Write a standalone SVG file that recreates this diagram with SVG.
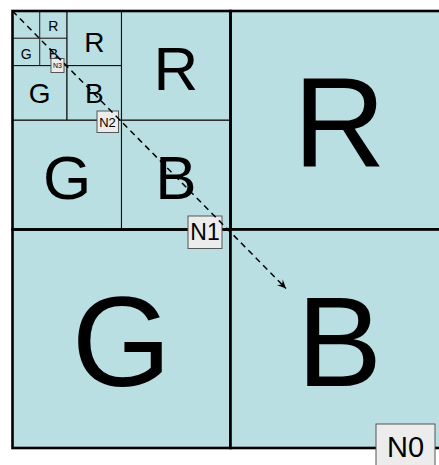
<svg xmlns="http://www.w3.org/2000/svg" width="439" height="465" viewBox="0 0 439 465">
<defs>
<style>
.c{fill:#b9dfe2}
.t0{stroke:#000;stroke-width:2.6}
.t1{stroke:#111;stroke-width:1.1}
.t3{stroke:#333;stroke-width:1}
.fr{fill:none;stroke:#000;stroke-width:2.6}
.L{font-family:"Liberation Sans",Arial,sans-serif;fill:#000;text-anchor:middle}
.lb{fill:#ececec;stroke:#555;stroke-width:1}
.con{fill:none;stroke:#000;stroke-width:1.5;stroke-dasharray:6 4.5}
</style>
<marker id="ah" markerUnits="userSpaceOnUse" markerWidth="12" markerHeight="12" viewBox="-10 -6 12 12" refX="0" refY="0" orient="auto">
<path d="M0,0 L-9,-4.2 Q-6,-1 -6,0 Q-6,1 -9,4.2 Z" fill="#000"/>
</marker>
</defs>
<!-- level 3 -->
<g id="cell-3-0"><rect class="c t3" x="12.5" y="11" width="27.25" height="27.3"/></g>
<g id="cell-3-R"><rect class="c t3" x="39.75" y="11" width="27.25" height="27.3"/><text class="L" x="53.4" y="31.2" font-size="14">R</text></g>
<g id="cell-3-G"><rect class="c t3" x="12.5" y="38.3" width="27.25" height="27.3"/><text class="L" x="26.1" y="58.5" font-size="14">G</text></g>
<g id="cell-3-B"><rect class="c t3" x="39.75" y="38.3" width="27.25" height="27.3"/><text class="L" x="53.4" y="58.5" font-size="14">B</text></g>
<!-- level 2 -->
<g id="cell-2-R"><rect class="c t1" x="67" y="11" width="54.5" height="54.6"/><text class="L" x="94.25" y="51.5" font-size="28">R</text></g>
<g id="cell-2-G"><rect class="c t1" x="12.5" y="65.6" width="54.5" height="54.65"/><text class="L" x="39.75" y="103.2" font-size="28">G</text></g>
<g id="cell-2-B"><rect class="c t1" x="67" y="65.6" width="54.5" height="54.65"/><text class="L" x="94.25" y="103.2" font-size="28">B</text></g>
<!-- level 1 -->
<g id="cell-1-R"><rect class="c t1" x="121.5" y="11" width="109" height="109.25"/><text class="L" x="176" y="90" font-size="62">R</text></g>
<g id="cell-1-G"><rect class="c t1" x="12.5" y="120.25" width="109" height="109.25"/><text class="L" x="67" y="199.3" font-size="62">G</text></g>
<g id="cell-1-B"><rect class="c t1" x="121.5" y="120.25" width="109" height="109.25"/><text class="L" x="176" y="199.3" font-size="62">B</text></g>
<!-- level 0 -->
<g id="cell-0-R"><rect class="c t0" x="230.5" y="11" width="218" height="218.5"/><text class="L" x="339.5" y="167" font-size="128">R</text></g>
<g id="cell-0-G"><rect class="c t0" x="12.5" y="229.5" width="218" height="218.5"/><text class="L" x="121.5" y="385.5" font-size="128">G</text></g>
<g id="cell-0-B"><rect class="c t0" x="230.5" y="229.5" width="218" height="218.5"/><text class="L" x="339.5" y="385.5" font-size="128">B</text></g>
<g id="frame"><rect class="fr" x="12.5" y="11" width="218" height="218.5"/></g>
<!-- labels -->
<g id="N0"><rect class="lb" x="376" y="424" width="59" height="48"/><text class="L" x="405.5" y="456.5" font-size="29">N0</text></g>
<g id="N1"><rect class="lb" x="188" y="216" width="34" height="32.5"/><text class="L" x="205" y="240" font-size="23">N1</text></g>
<g id="N2"><rect class="lb" x="97" y="111" width="21.5" height="21.5"/><text class="L" x="107.5" y="126.5" font-size="13">N2</text></g>
<g id="N3"><rect class="lb" x="51" y="58.5" width="13" height="14"/><text class="L" x="57.5" y="68" font-size="7">N3</text></g>
<!-- connectors -->
<g id="connectors"><path class="con" d="M12.5,11 L286,288.5" marker-end="url(#ah)"/></g>
</svg>
